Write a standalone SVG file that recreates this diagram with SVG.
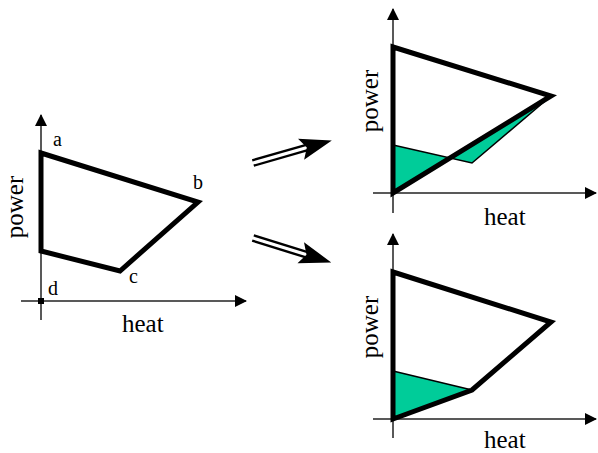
<svg xmlns="http://www.w3.org/2000/svg" width="598" height="453" viewBox="0 0 598 453">
<style>
.ax{stroke:#222;stroke-width:1.5;fill:none}
.thick{stroke:#000;stroke-width:5;fill:none;stroke-linejoin:miter}
.thin{stroke:#000;stroke-width:1.5;fill:none}
.green{fill:#00cc99;stroke:none}
.t{font-family:"Liberation Serif","Times New Roman",serif;font-size:25px;fill:#000}
.l{font-family:"Liberation Serif","Times New Roman",serif;font-size:20px;fill:#000}
</style>
<defs>
<marker id="ah" viewBox="0 0 12 12" refX="11" refY="6" markerWidth="12" markerHeight="12" markerUnits="userSpaceOnUse" orient="auto">
<path d="M0,0 L12,6 L0,12 Z" fill="#000"/>
</marker>
<g id="bigarrow">
<line x1="0" y1="-2.8" x2="58" y2="-2.8" stroke="#000" stroke-width="2.4"/>
<line x1="0" y1="2.8" x2="58" y2="2.8" stroke="#000" stroke-width="2.4"/>
<path d="M82,0 L50,-11 L56,0 L50,11 Z" fill="#000"/>
</g>
</defs>

<g id="left-diagram">
<line class="ax" x1="41" y1="320" x2="41" y2="115" marker-end="url(#ah)"/>
<line class="ax" x1="21" y1="301" x2="246" y2="301" marker-end="url(#ah)"/>
<rect x="38" y="298" width="6" height="6" fill="#000"/>
<polygon class="thick" points="41,153 198,202 120,271 41,251"/>
<text class="l" x="53" y="146">a</text>
<text class="l" x="193" y="189">b</text>
<text class="l" x="129" y="283">c</text>
<text class="l" x="48" y="295">d</text>
<text class="t" x="122" y="332">heat</text>
<text class="t" transform="translate(23,207) rotate(-90)" text-anchor="middle">power</text>
</g>

<g id="connectors">
<use href="#bigarrow" transform="translate(253,163) rotate(-16)"/>
<use href="#bigarrow" transform="translate(253,238) rotate(17.3)"/>
</g>

<g id="top-right-diagram">
<polygon class="green" points="393,145 472,163 551,96 393,193"/>
<polyline class="thin" points="393,145 472,163 551,96"/>
<line class="ax" x1="393" y1="213" x2="393" y2="9" marker-end="url(#ah)"/>
<line class="ax" x1="373" y1="193" x2="596" y2="193" marker-end="url(#ah)"/>
<polygon class="thick" points="393,47 551,96 393,193"/>
<text class="t" x="484" y="225">heat</text>
<text class="t" transform="translate(378,101) rotate(-90)" text-anchor="middle">power</text>
</g>

<g id="bottom-right-diagram">
<polygon class="green" points="393,371 472,390 393,419"/>
<line class="thin" x1="393" y1="371" x2="472" y2="390"/>
<line class="ax" x1="393" y1="438" x2="393" y2="234" marker-end="url(#ah)"/>
<line class="ax" x1="373" y1="419" x2="596" y2="419" marker-end="url(#ah)"/>
<polygon class="thick" points="393,272 551,322 472,390 393,419"/>
<text class="t" x="484" y="448">heat</text>
<text class="t" transform="translate(378,327) rotate(-90)" text-anchor="middle">power</text>
</g>
</svg>
